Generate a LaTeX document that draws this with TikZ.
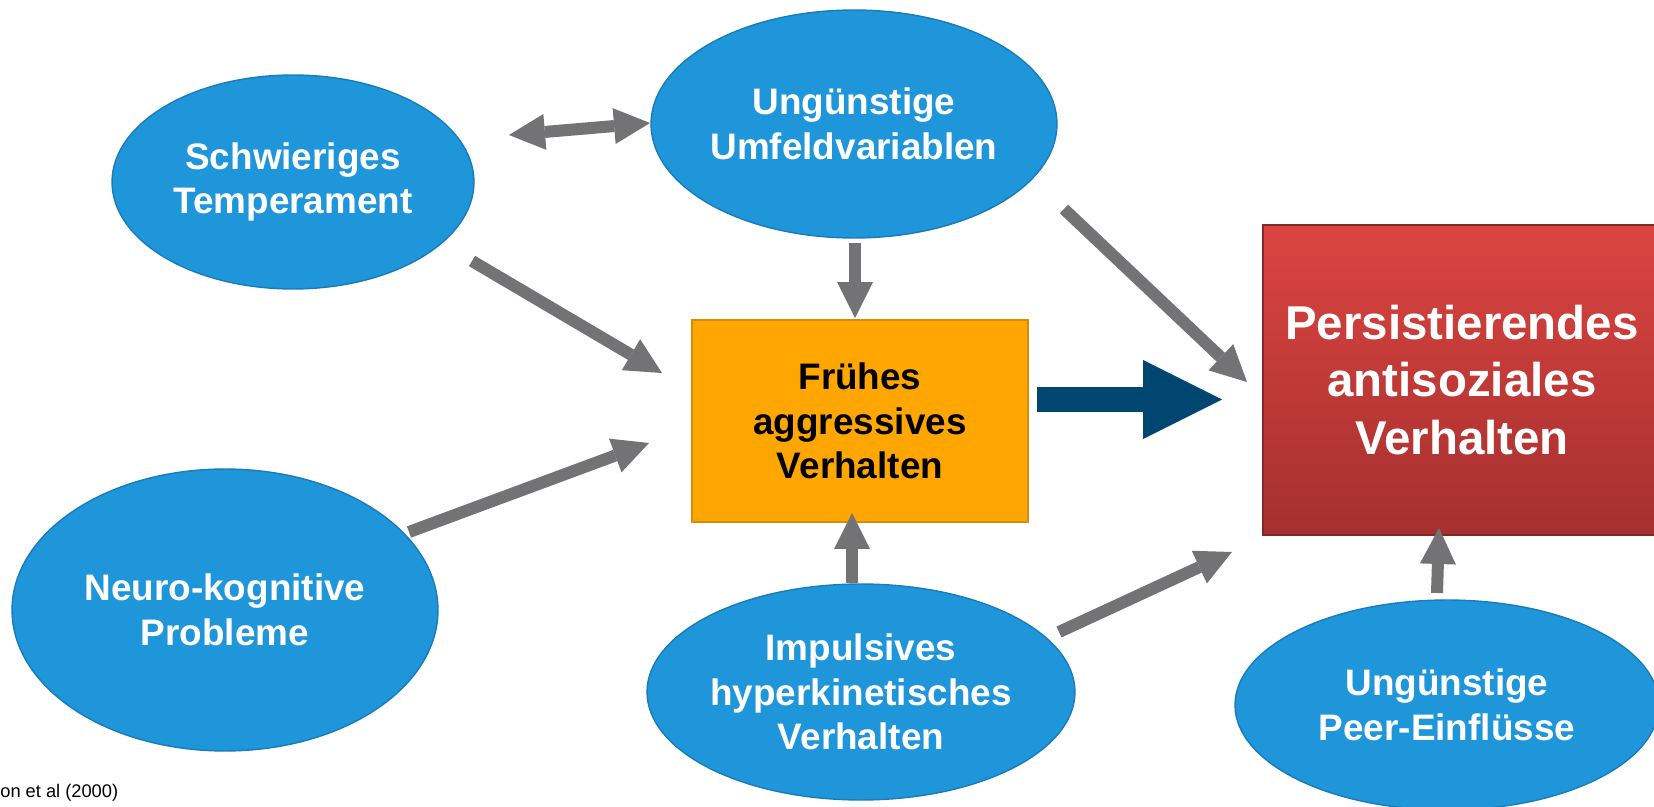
\documentclass[tikz,border=0pt]{standalone}
\usepackage{fontspec}
\setmainfont{Liberation Sans}
\usetikzlibrary{arrows.meta,shapes.geometric}
\definecolor{blau}{RGB}{30,150,217}
\definecolor{blaurand}{RGB}{24,124,186}
\definecolor{fruehorange}{RGB}{255,166,0}
\definecolor{orangerand}{RGB}{214,140,10}
\definecolor{rotoben}{RGB}{219,68,64}
\definecolor{rotunten}{RGB}{165,48,47}
\definecolor{grau}{RGB}{115,115,117}
\definecolor{dunkelblau}{RGB}{0,70,112}

\begin{document}
\begin{tikzpicture}[x=0.02cm,y=-0.02cm,
 oval/.style={ellipse,fill=blau,draw=blaurand,line width=0.8pt,text=white,align=center,inner sep=0pt,font=\bfseries\fontsize{21}{25.5}\selectfont},
 pfeil/.style={draw=grau,line width=0.24cm,-{Triangle[width=0.72cm,length=0.72cm,line width=0pt]}},
 doppelpfeil/.style={pfeil,{Triangle[width=0.72cm,length=0.72cm,line width=0pt]}-{Triangle[width=0.72cm,length=0.72cm,line width=0pt]}}]
 \useasboundingbox (0,0) rectangle (1654,807); %Bildgrenze
 \fill[white] (0,0) rectangle (1654,807); %Hintergrund

 \node[oval,minimum width=7.24cm,minimum height=4.28cm] (temp) at (293,182) {Schwieriges\\Temperament}; %links oben
 \node[oval,minimum width=7.44cm,minimum height=4.56cm] (umfeld) at (854,124) {Ungünstige\\Umfeldvariablen}; %oben
 \node[oval,minimum width=8.52cm,minimum height=5.64cm] (neuro) at (225,610) {Neuro-kognitive\\Probleme}; %links unten
 \node[oval,minimum width=8.56cm,minimum height=4.32cm] (impuls) at (861,692) {Impulsives\\hyperkinetisches\\Verhalten}; %unten
 \node[oval,minimum width=8.48cm,minimum height=4.2cm] (peer) at (1447,705) {Ungünstige\\Peer-Einflüsse}; %rechts unten

 \node[rectangle,fill=fruehorange,draw=orangerand,line width=1pt,minimum width=6.72cm,minimum height=4.04cm,align=center,inner sep=0pt,font=\bfseries\fontsize{21}{25.5}\selectfont] (frueh) at (860,421) {Frühes\\aggressives\\Verhalten}; %Mitte
 \node[rectangle,top color=rotoben,bottom color=rotunten,draw=rotunten!80!black,line width=1pt,minimum width=7.96cm,minimum height=6.2cm,align=center,inner sep=0pt,text=white,font=\bfseries\fontsize{27}{32.7}\selectfont] (persist) at (1462,380) {Persistierendes\\antisoziales\\Verhalten}; %rechts

 \node[anchor=base west,inner sep=0pt,font=\fontsize{10.4}{12}\selectfont] (quelle) at (0,797) {on et al (2000)}; %Quelle

 \coordinate (D1) at (509,135); %Doppelpfeil
 \coordinate (D2) at (650,123);
 \coordinate (T1) at (472,261);
 \coordinate (T2) at (662,373);
 \coordinate (N1) at (409,532);
 \coordinate (N2) at (649,443);
 \coordinate (U1) at (855,243);
 \coordinate (U2) at (855,318);
 \coordinate (I1) at (852,583);
 \coordinate (I2) at (852,513);
 \coordinate (U3) at (1064,209);
 \coordinate (U4) at (1247,382);
 \coordinate (I3) at (1059,632);
 \coordinate (I4) at (1232,552);
 \coordinate (P1) at (1437,593);
 \coordinate (P2) at (1439,528);
 \coordinate (F1) at (1037,399.5); %dicker Pfeil
 \coordinate (F2) at (1222,399.5);

 \draw[doppelpfeil] (D1)--(D2);
 \draw[pfeil] (T1)--(T2);
 \draw[pfeil] (N1)--(N2);
 \draw[pfeil] (U1)--(U2);
 \draw[pfeil] (I1)--(I2);
 \draw[pfeil] (U3)--(U4);
 \draw[pfeil] (I3)--(I4);
 \draw[pfeil] (P1)--(P2);
 \draw[draw=dunkelblau,line width=0.5cm,-{Triangle[width=1.58cm,length=1.58cm,line width=0pt]}] (F1)--(F2);
\end{tikzpicture}
\end{document}
